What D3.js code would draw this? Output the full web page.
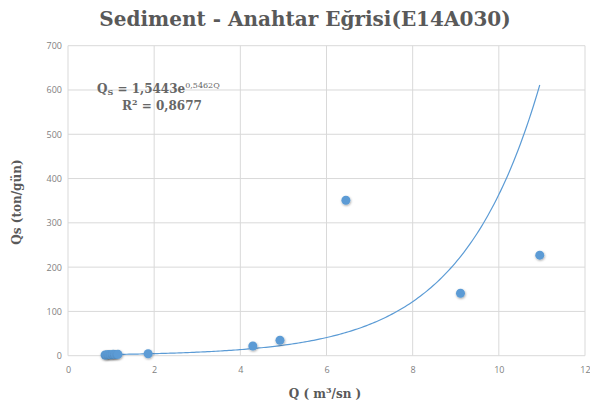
<!DOCTYPE html>
<html>
<head>
<meta charset="utf-8">
<script src="https://d3js.org/d3.v7.min.js"></script>
<title>Sediment - Anahtar Eğrisi</title>
<style>
body { margin: 0; padding: 0; background: #fff; }
svg text { fill: #595959; }
.tick text { font-family: "Open Sans", "Liberation Sans", sans-serif; font-size: 9px; fill: #7f7f7f; }
.serif { font-family: "DejaVu Serif", "Liberation Serif", serif; font-weight: bold; }
.eq { font-family: "DejaVu Serif", "Liberation Serif", serif; font-weight: bold; font-size: 12px; fill: #666; }
</style>
</head>
<body>
<svg id="chart" width="590" height="410"></svg>
<script>

// discharge Q (m3/sn) and sediment Qs (ton/gün)
var qValues  = [0.86, 0.9, 0.95, 1.0, 1.05, 1.1, 1.16, 1.86, 4.29, 4.92, 6.45, 9.11, 10.95];
var qsValues = [1.5, 2.0, 2.5, 2.0, 3.0, 2.5, 3.0, 4.5, 22, 35, 351, 141, 227];
var xTicks = [0, 2, 4, 6, 8, 10, 12];
var yTicks = [0, 100, 200, 300, 400, 500, 600, 700];

// trend line Qs = a * e^(b Q)
var a = 1.5443, b = 0.5462;

var svg = d3.select("#chart");
var plotLeft = 68, plotRight = 585, plotTop = 45.7, plotBottom = 355.7;

var x = d3.scaleLinear().domain([0, 12]).range([plotLeft, plotRight]);
var y = d3.scaleLinear().domain([0, 700]).range([plotBottom, plotTop]);

// grid
svg.append("g").selectAll("line").data(xTicks).enter().append("line")
  .attr("x1", function(d) { return x(d); }).attr("x2", function(d) { return x(d); })
  .attr("y1", plotTop).attr("y2", plotBottom)
  .attr("stroke", "#d9d9d9").attr("stroke-width", 1);
svg.append("g").selectAll("line").data(yTicks).enter().append("line")
  .attr("x1", plotLeft).attr("x2", plotRight)
  .attr("y1", function(d) { return y(d); }).attr("y2", function(d) { return y(d); })
  .attr("stroke", "#d9d9d9").attr("stroke-width", 1);

// axes (labels only)
var xAxis = svg.append("g").attr("transform", "translate(0," + (plotBottom + 7) + ")")
  .call(d3.axisBottom(x).tickValues(xTicks).tickSize(0).tickPadding(4));
var yAxis = svg.append("g").attr("transform", "translate(" + (plotLeft - 6) + ",0)")
  .call(d3.axisLeft(y).tickValues(yTicks).tickSize(0).tickPadding(0));
xAxis.select(".domain").remove();
yAxis.select(".domain").remove();

// trend line
var qMin = d3.min(qValues), qMax = d3.max(qValues);
var curve = d3.range(0, 201).map(function(i) {
  var q = qMin + (qMax - qMin) * i / 200;
  return [q, a * Math.exp(b * q)];
});
svg.append("path")
  .datum(curve)
  .attr("fill", "none")
  .attr("stroke", "#5b9bd5")
  .attr("stroke-width", 1.2)
  .attr("d", d3.line().x(function(d) { return x(d[0]); }).y(function(d) { return y(d[1]); }));

// points
var defs = svg.append("defs");
defs.append("filter").attr("id", "shadow").attr("x", "-50%").attr("y", "-50%").attr("width", "200%").attr("height", "200%")
  .append("feDropShadow").attr("dx", 0.5).attr("dy", 1).attr("stdDeviation", 1)
  .attr("flood-color", "#000").attr("flood-opacity", 0.35);

svg.append("g").selectAll("circle").data(qValues).enter().append("circle")
  .attr("cx", function(d) { return x(d); })
  .attr("cy", function(d, i) { return y(qsValues[i]); })
  .attr("r", 4.5)
  .attr("fill", "#5b9bd5")
  .attr("filter", "url(#shadow)");

// title
svg.append("text").attr("class", "serif")
  .attr("x", 305).attr("y", 26)
  .attr("text-anchor", "middle")
  .attr("font-size", "20px")
  .text("Sediment - Anahtar Eğrisi(E14A030)");

// equation
var eq = svg.append("text").attr("class", "eq")
  .attr("x", 97).attr("y", 93);
eq.append("tspan").text("Q");
eq.append("tspan").attr("font-size", "8px").attr("dy", 2).text("S");
eq.append("tspan").attr("dy", -2).text(" = 1,5443e");
eq.append("tspan").attr("font-size", "8px").attr("font-weight", "normal").attr("dy", -5).text("0,5462Q");

var r2 = svg.append("text").attr("class", "eq")
  .attr("x", 122).attr("y", 110);
r2.append("tspan").text("R");
r2.append("tspan").attr("font-size", "8px").attr("dy", -5).text("2");
r2.append("tspan").attr("dy", 5).text(" = 0,8677");

// axis titles
svg.append("text").attr("class", "serif")
  .attr("transform", "translate(21,202) rotate(-90)")
  .attr("text-anchor", "middle")
  .attr("font-size", "12px")
  .text("Qs (ton/gün)");

var xt = svg.append("text").attr("class", "serif")
  .attr("x", 325).attr("y", 398)
  .attr("text-anchor", "middle")
  .attr("font-size", "12px");
xt.append("tspan").text("Q ( m");
xt.append("tspan").attr("font-size", "8px").attr("dy", -5).text("3");
xt.append("tspan").attr("dy", 5).text("/sn )");

</script>
</body>
</html>
